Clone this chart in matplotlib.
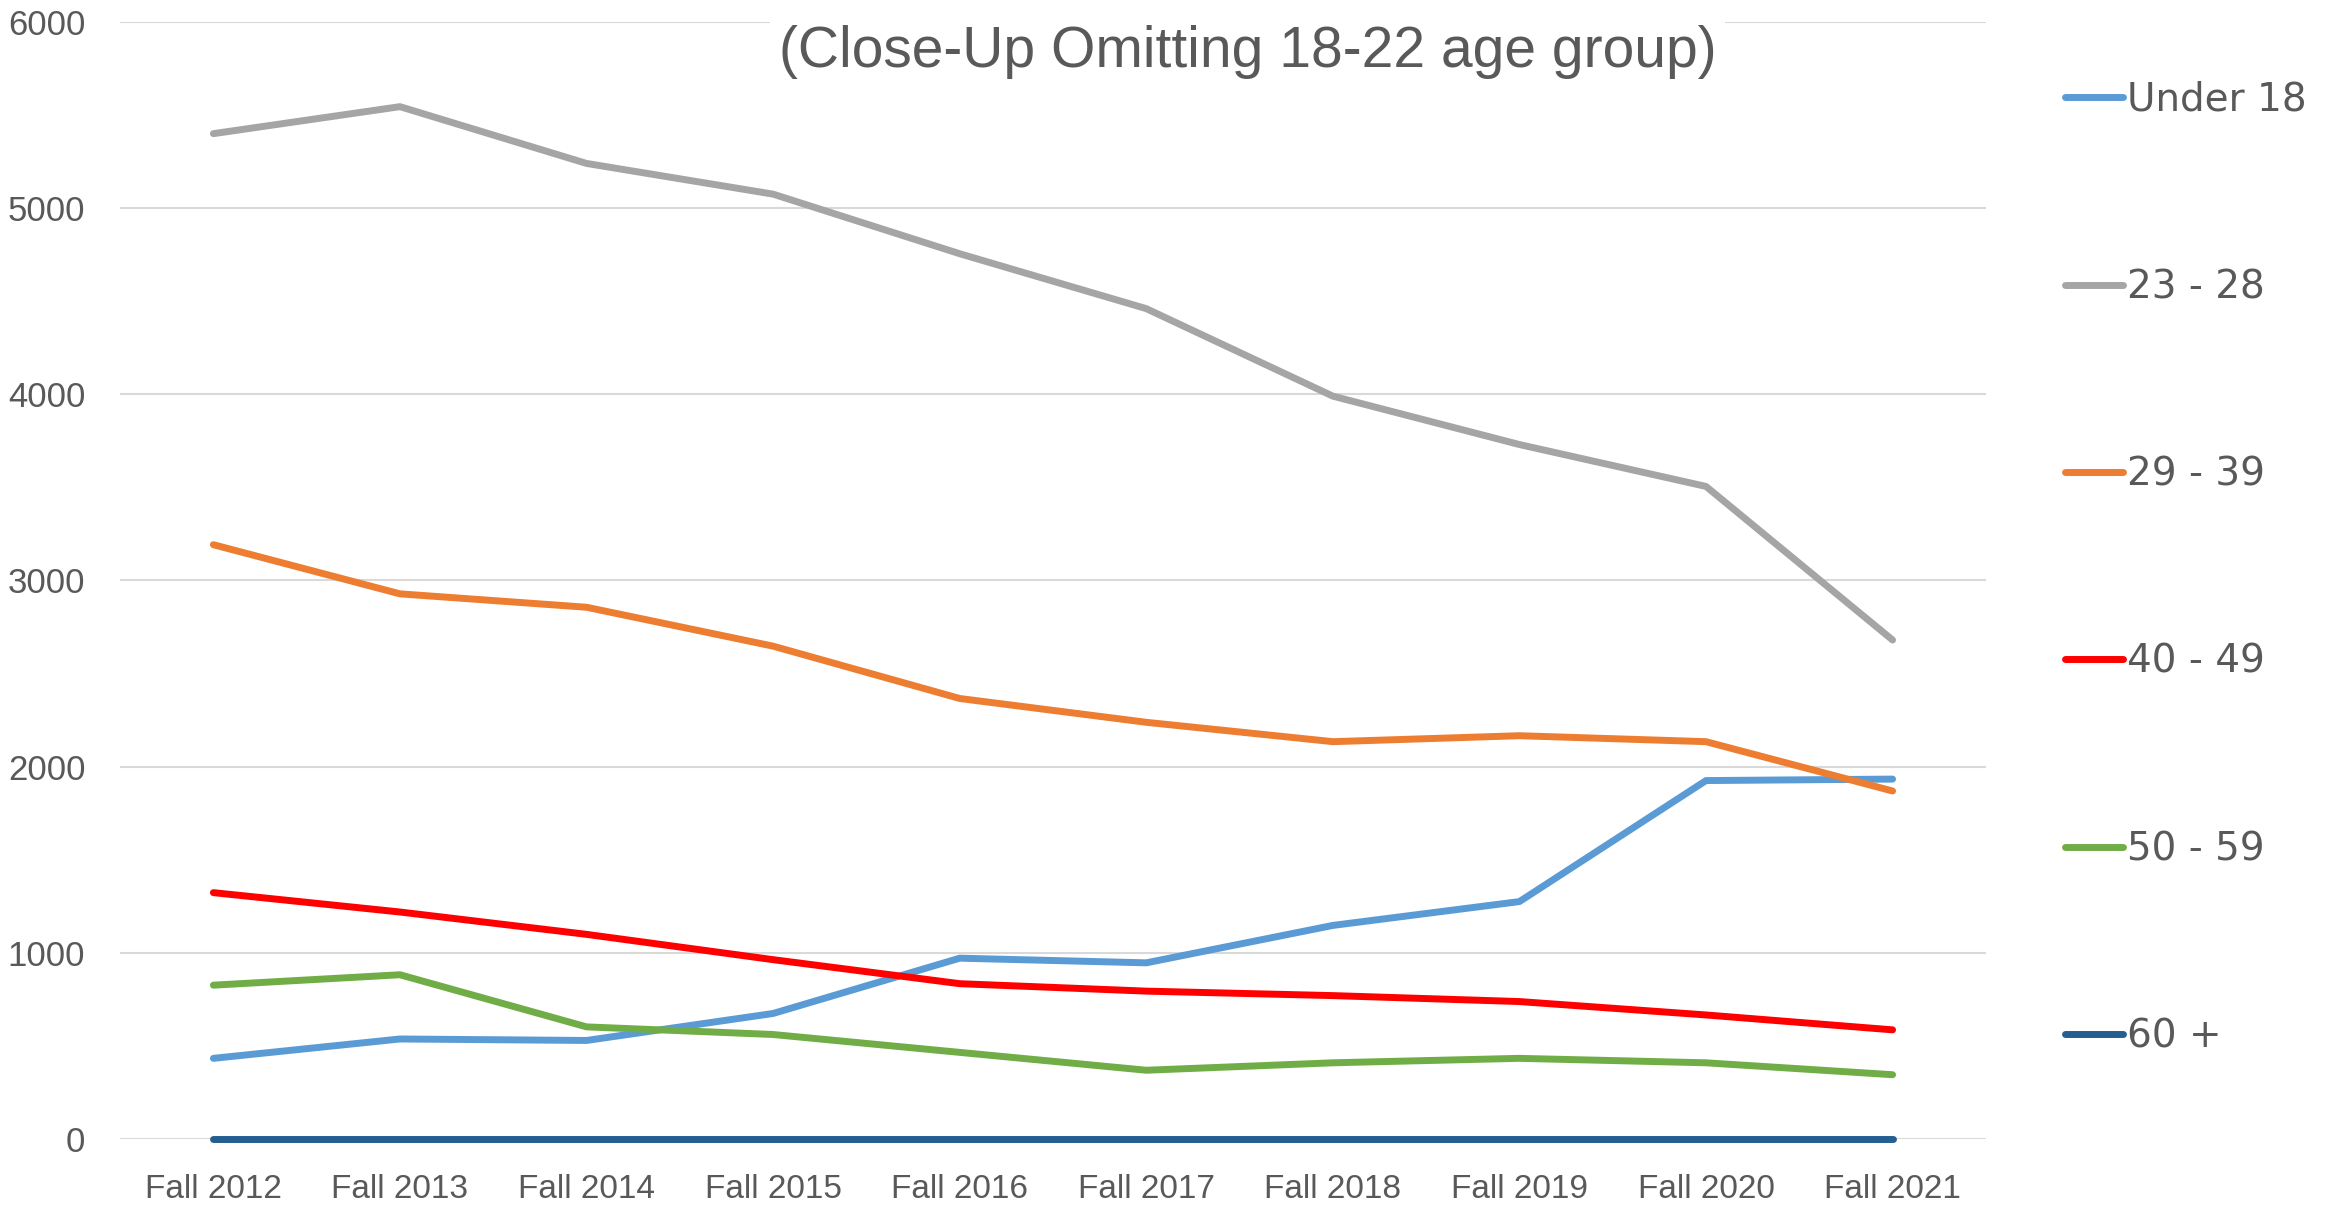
import matplotlib
matplotlib.use('Agg')
import matplotlib.pyplot as plt

# data
terms = ['Fall 2012', 'Fall 2013', 'Fall 2014', 'Fall 2015', 'Fall 2016',
         'Fall 2017', 'Fall 2018', 'Fall 2019', 'Fall 2020', 'Fall 2021']
under_18 = [433, 537, 529, 674, 971, 946, 1147, 1275, 1925, 1933]
age_23_28 = [5400, 5545, 5240, 5075, 4755, 4460, 3990, 3730, 3505, 2680]
age_29_39 = [3192, 2928, 2856, 2647, 2366, 2238, 2134, 2166, 2134, 1869]
age_40_49 = [1323, 1219, 1099, 963, 834, 794, 770, 738, 666, 586]
age_50_59 = [826, 882, 602, 561, 465, 369, 409, 433, 409, 345]
age_60_up = [0, 0, 0, 0, 0, 0, 0, 0, 0, 0]

series = [
    ('Under 18', under_18, '#5B9BD5'),
    ('23 - 28', age_23_28, '#A5A5A5'),
    ('29 - 39', age_29_39, '#ED7D31'),
    ('40 - 49', age_40_49, '#FF0000'),
    ('50 - 59', age_50_59, '#70AD47'),
    ('60 +', age_60_up, '#255E91'),
]

narrow = ['Liberation Sans', 'DejaVu Sans']
text_color = '#595959'

fig = plt.figure(figsize=(23.41, 12.06), dpi=100)
ax = fig.add_axes([0.0513, 0.0556, 0.7970, 0.9262])

x = list(range(len(terms)))
for i, (name, values, color) in enumerate(series):
    # no clipping so the 60+ line sitting on zero keeps its full width
    ax.plot(x, values, color=color, lw=5, label=name,
            solid_capstyle='round', zorder=3 + i, clip_on=False)

ax.set_xlim(-0.5, len(terms) - 0.5)
ax.set_ylim(0, 6000)
ax.set_yticks(range(0, 6001, 1000))
ax.set_xticks(x)
ax.set_xticklabels(terms)
ax.grid(axis='y', color='#D9D9D9', lw=1.5, zorder=0)
for side in ['top', 'right', 'left', 'bottom']:
    ax.spines[side].set_visible(False)
ax.tick_params(length=0, colors=text_color)
ax.tick_params(axis='y', pad=25)
ax.tick_params(axis='x', pad=25)
for lbl in ax.get_xticklabels():
    lbl.set_family(narrow)
    lbl.set_fontsize(24)
for lbl in ax.get_yticklabels():
    lbl.set_family(narrow)
    lbl.set_fontsize(25)

fig.text(0.533, 0.957, '(Close-Up Omitting 18-22 age group)', family=narrow,
         fontsize=41, color=text_color, ha='center', va='center', zorder=10,
         bbox=dict(facecolor='white', edgecolor='none', pad=6))

leg = ax.legend(loc='upper left', bbox_to_anchor=(0.882, 0.933),
                bbox_transform=fig.transFigure, frameon=False,
                fontsize=28, labelspacing=3.84, handlelength=1.5,
                handletextpad=0.1, borderpad=0, borderaxespad=0)
for t in leg.get_texts():
    t.set_color(text_color)
for h in leg.get_lines():
    h.set_linewidth(5)

fig.savefig('out.png', dpi=100)
